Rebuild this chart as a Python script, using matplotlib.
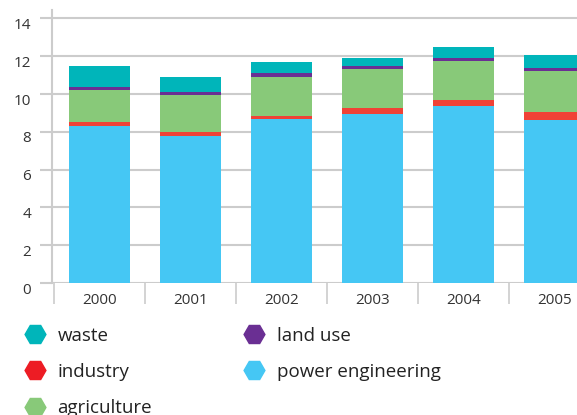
import numpy as np
import matplotlib.pyplot as plt
import matplotlib.transforms as mtransforms
from matplotlib.lines import Line2D

plt.rcParams['font.family'] = ['Open Sans', 'DejaVu Sans']

years = ['2000', '2001', '2002', '2003', '2004', '2005']
power = [8.29, 7.76, 8.66, 8.93, 9.35, 8.61]
industry = [0.21, 0.21, 0.16, 0.32, 0.32, 0.43]
agriculture = [1.70, 1.97, 2.07, 2.06, 2.07, 2.17]
land_use = [0.16, 0.15, 0.21, 0.16, 0.16, 0.16]
waste = [1.11, 0.80, 0.59, 0.43, 0.58, 0.69]

c_power = '#45c7f4'
c_industry = '#f04236'
c_agri = '#88c979'
c_land = '#6a2f93'
c_waste = '#00b5ba'
grid_c = '#cccccc'

fig = plt.figure(figsize=(5.77, 4.15), dpi=100)
ax = fig.add_axes([0.09, 0.318, 0.91, 0.658])

x = np.arange(len(years))
w = 0.67
bottom = np.zeros(len(years))
for vals, col in [(power, c_power), (industry, c_industry), (agriculture, c_agri),
                  (land_use, c_land), (waste, c_waste)]:
    ax.bar(x, vals, w, bottom=bottom, color=col, zorder=3, linewidth=0)
    bottom += np.array(vals)

ax.set_xlim(-0.52, 5.25)
ax.set_ylim(0, 14.45)
ax.set_yticks(range(0, 15, 2))
ax.yaxis.grid(True, color=grid_c, linewidth=1.5, zorder=0)
for s in ['top', 'right', 'bottom']:
    ax.spines[s].set_visible(False)
ax.spines['left'].set_color(grid_c)
ax.spines['left'].set_linewidth(1.5)
ax.tick_params(axis='y', length=9, width=1.5, color=grid_c, labelsize=11,
               labelcolor='#333333', pad=6)

# labels sit a little below their gridlines in the original
shift = mtransforms.ScaledTranslation(0, -5 / 100, fig.dpi_scale_trans)
for lab in ax.get_yticklabels():
    lab.set_transform(lab.get_transform() + shift)

ax.set_xticks(x)
ax.set_xticklabels(years)
ax.set_xticks(np.arange(-0.5, 5.5, 1), minor=True)
ax.tick_params(axis='x', which='major', length=0, labelsize=11, labelcolor='#333333', pad=7)
ax.tick_params(axis='x', which='minor', length=15, width=1.2, color=grid_c)

handles = [
    Line2D([], [], marker='H', linestyle='', color=c_waste, markersize=15),
    Line2D([], [], marker='H', linestyle='', color='#ed1c24', markersize=15),
    Line2D([], [], marker='H', linestyle='', color=c_agri, markersize=15),
    Line2D([], [], marker='H', linestyle='', color=c_land, markersize=15),
    Line2D([], [], marker='H', linestyle='', color=c_power, markersize=15),
]
labels = ['waste', 'industry', 'agriculture', 'land use', 'power engineering']
fig.legend(handles, labels, ncol=2, loc='upper left', bbox_to_anchor=(0.016, 0.231),
           frameon=False, fontsize=13.5, labelcolor='#222222', handletextpad=0.18,
           columnspacing=4.45, labelspacing=0.98, borderaxespad=0)

fig.savefig('out.png', dpi=100)
